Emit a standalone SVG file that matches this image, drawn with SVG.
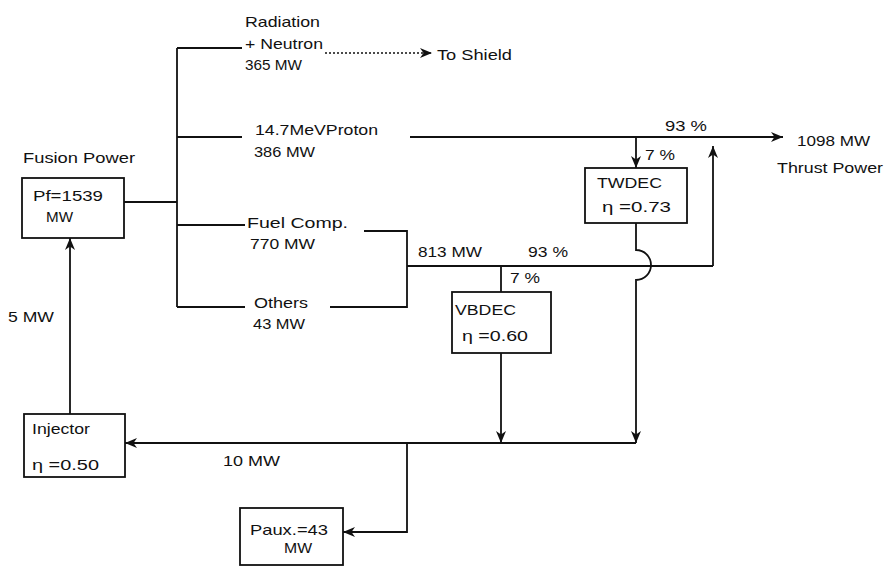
<svg xmlns="http://www.w3.org/2000/svg" width="886" height="567" viewBox="0 0 886 567">
<style>
text{font-family:"Liberation Sans",Arial,sans-serif;font-size:15px;fill:#111}
.ln{fill:none;stroke:#111;stroke-width:1.8}
.box{fill:#fff;stroke:#111;stroke-width:1.8}
.dot{fill:none;stroke:#111;stroke-width:1.5;stroke-dasharray:2,2}
</style>
<defs>
<marker id="ah" markerUnits="userSpaceOnUse" markerWidth="13" markerHeight="11" refX="12" refY="5" orient="auto" overflow="visible">
<path d="M0,0 L12,5 L0,10 L3.5,5 Z" fill="#111"/>
</marker>
</defs>
<rect width="886" height="567" fill="#fff"/>
<g id="connectors">
<path class="ln" d="M177,48 V307"/>
<path class="ln" d="M177,48 H242"/>
<path class="ln" d="M177,137 H242"/>
<path class="ln" d="M124,202 H177"/>
<path class="ln" d="M177,225 H245"/>
<path class="ln" d="M177,307 H245"/>
<path class="dot" d="M325,53 H432" marker-end="url(#ah)"/>
<path class="ln" d="M410,137 H783" marker-end="url(#ah)"/>
<path class="ln" d="M636,137 V168" marker-end="url(#ah)"/>
<path class="ln" d="M713,266 V146" marker-end="url(#ah)"/>
<path class="ln" d="M364,231 H407 V307 H330"/>
<path class="ln" d="M407,266 H713"/>
<path class="ln" d="M501,266 V292"/>
<path class="ln" d="M501,353 V443" marker-end="url(#ah)"/>
<path class="ln" d="M636,223 V250 A15,15 0 0 1 636,280 V443" marker-end="url(#ah)"/>
<path class="ln" d="M636,443 H125" marker-end="url(#ah)"/>
<path class="ln" d="M407,443 V532 H343" marker-end="url(#ah)"/>
<path class="ln" d="M70,414 V238" marker-end="url(#ah)"/>
</g>
<g id="labels">
<text x="245" y="27" textLength="75" lengthAdjust="spacingAndGlyphs">Radiation</text>
<text x="245" y="49" textLength="78" lengthAdjust="spacingAndGlyphs">+ Neutron</text>
<text x="245" y="70" textLength="57" lengthAdjust="spacingAndGlyphs">365 MW</text>
<text x="437" y="60" textLength="75" lengthAdjust="spacingAndGlyphs">To Shield</text>
<text x="255" y="135" textLength="123" lengthAdjust="spacingAndGlyphs">14.7MeVProton</text>
<text x="254" y="157" textLength="61" lengthAdjust="spacingAndGlyphs">386 MW</text>
<text x="23" y="163" textLength="112" lengthAdjust="spacingAndGlyphs">Fusion Power</text>
<text x="247" y="228" textLength="101" lengthAdjust="spacingAndGlyphs">Fuel Comp.</text>
<text x="250" y="249" textLength="65" lengthAdjust="spacingAndGlyphs">770 MW</text>
<text x="254" y="308" textLength="54" lengthAdjust="spacingAndGlyphs">Others</text>
<text x="253" y="329" textLength="52" lengthAdjust="spacingAndGlyphs">43 MW</text>
<text x="8" y="322" textLength="46" lengthAdjust="spacingAndGlyphs">5 MW</text>
<text x="223" y="466" textLength="57" lengthAdjust="spacingAndGlyphs">10 MW</text>
<text x="665" y="131" textLength="42" lengthAdjust="spacingAndGlyphs">93 %</text>
<text x="797" y="146" textLength="73" lengthAdjust="spacingAndGlyphs">1098 MW</text>
<text x="777" y="173" textLength="106" lengthAdjust="spacingAndGlyphs">Thrust Power</text>
<text x="645" y="160" textLength="30" lengthAdjust="spacingAndGlyphs">7 %</text>
<text x="418" y="257" textLength="64" lengthAdjust="spacingAndGlyphs">813 MW</text>
<text x="528" y="257" textLength="40" lengthAdjust="spacingAndGlyphs">93 %</text>
<text x="510" y="283" textLength="30" lengthAdjust="spacingAndGlyphs">7 %</text>
</g>
<g id="pf">
<rect class="box" x="22" y="178" width="102" height="60"/>
<text x="33" y="201" textLength="70" lengthAdjust="spacingAndGlyphs">Pf=1539</text>
<text x="46" y="222" textLength="27" lengthAdjust="spacingAndGlyphs">MW</text>
</g>
<g id="twdec">
<rect class="box" x="585" y="168" width="102" height="55"/>
<text x="597" y="188" textLength="65" lengthAdjust="spacingAndGlyphs">TWDEC</text>
<text x="602" y="212" textLength="69" lengthAdjust="spacingAndGlyphs">η =0.73</text>
</g>
<g id="vbdec">
<rect class="box" x="452" y="292" width="99" height="61"/>
<text x="455" y="315" textLength="61" lengthAdjust="spacingAndGlyphs">VBDEC</text>
<text x="462" y="341" textLength="66" lengthAdjust="spacingAndGlyphs">η =0.60</text>
</g>
<g id="injector">
<rect class="box" x="24" y="414" width="101" height="63"/>
<text x="32" y="434" textLength="58" lengthAdjust="spacingAndGlyphs">Injector</text>
<text x="32" y="470" textLength="67" lengthAdjust="spacingAndGlyphs">η =0.50</text>
</g>
<g id="paux">
<rect class="box" x="240" y="508" width="103" height="57"/>
<text x="250" y="535" textLength="78" lengthAdjust="spacingAndGlyphs">Paux.=43</text>
<text x="284" y="553" textLength="28" lengthAdjust="spacingAndGlyphs">MW</text>
</g>
</svg>
